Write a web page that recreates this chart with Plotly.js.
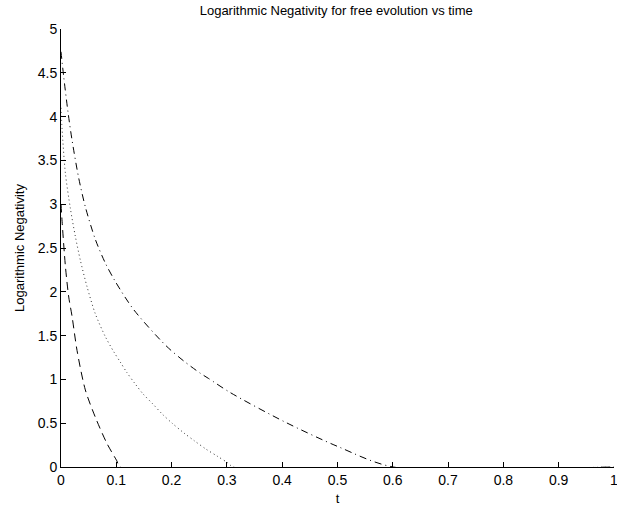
<!DOCTYPE html>
<html>
<head>
<meta charset="utf-8">
<script src="https://cdn.plot.ly/plotly-3.0.1.min.js"></script>
<style>html,body{margin:0;padding:0;background:#fff;}#chart{width:617px;height:511px;}</style>
</head>
<body>
<div id="chart"></div>
<script>
// Dashed series
const tDash = [0, 0.002, 0.008, 0.014, 0.02, 0.029, 0.044, 0.062, 0.083, 0.101, 0.107, 1.0];
const yDash = [3.0, 2.8, 2.29, 1.94, 1.72, 1.33, 0.88, 0.57, 0.27, 0.07, 0, 0];
// Dotted series
const tDot = [0, 0.002, 0.008, 0.017, 0.026, 0.035, 0.047, 0.062, 0.08, 0.095, 0.107, 0.119, 0.134, 0.149, 0.166, 0.183, 0.201, 0.222, 0.241, 0.262, 0.282, 0.301, 0.312, 1.0];
const yDot = [4.1, 3.85, 3.35, 2.95, 2.63, 2.36, 2.06, 1.75, 1.49, 1.32, 1.20, 1.08, 0.95, 0.83, 0.72, 0.605, 0.50, 0.39, 0.30, 0.205, 0.126, 0.05, 0, 0];
// Dash-dot series
const tDashDot = [0, 0.005, 0.0127, 0.02, 0.032, 0.044, 0.062, 0.08, 0.098, 0.131, 0.189, 0.222, 0.252, 0.267, 0.306, 0.403, 0.502, 0.601, 1.0];
const yDashDot = [4.74, 4.45, 4.05, 3.73, 3.3, 2.97, 2.6, 2.33, 2.12, 1.80, 1.39, 1.21, 1.07, 1.01, 0.85, 0.52, 0.23, 0, 0];

const xTicks = [0, 0.1, 0.2, 0.3, 0.4, 0.5, 0.6, 0.7, 0.8, 0.9, 1];
const xTickText = ["0", "0.1", "0.2", "0.3", "0.4", "0.5", "0.6", "0.7", "0.8", "0.9", "1"];
const yTicks = [0, 0.5, 1, 1.5, 2, 2.5, 3, 3.5, 4, 4.5, 5];
const yTickText = ["0", "0.5", "1", "1.5", "2", "2.5", "3", "3.5", "4", "4.5", "5"];

const font = "Liberation Sans, Arial, Helvetica, sans-serif";
const traces = [
  {x: tDash, y: yDash, mode: "lines", line: {color: "#000", width: 1, dash: "8px,5px", shape: "spline", smoothing: 0.8}},
  {x: tDot, y: yDot, mode: "lines", line: {color: "#333", width: 1, dash: "1px,3px", shape: "spline", smoothing: 0.8}},
  {x: tDashDot, y: yDashDot, mode: "lines", line: {color: "#000", width: 1, dash: "7px,4px,1px,4px", shape: "spline", smoothing: 0.8}}
];
const layout = {
  width: 617, height: 511,
  margin: {l: 61, r: 3, t: 29, b: 44},
  paper_bgcolor: "#fff", plot_bgcolor: "#fff",
  showlegend: false,
  font: {family: font, size: 14, color: "#000"},
  title: {text: "Logarithmic Negativity for free evolution vs time", font: {family: font, size: 13, color: "#000"}, x: 0.545, xanchor: "center", y: 0.988, yanchor: "top"},
  xaxis: {
    range: [0, 1.0001], tickmode: "array", tickvals: xTicks, ticktext: xTickText,
    ticks: "inside", ticklen: 5, tickcolor: "#000", tickwidth: 1,
    ticklabeloverflow: "allow",
    showline: true, linecolor: "#000", linewidth: 1, showgrid: false, zeroline: false,
    tickfont: {family: font, size: 14, color: "#000"},
    title: {text: "t", font: {family: font, size: 13, color: "#000"}, standoff: 7}
  },
  yaxis: {
    range: [0, 5], tickmode: "array", tickvals: yTicks, ticktext: yTickText,
    ticks: "inside", ticklen: 5, tickcolor: "#000", tickwidth: 1,
    ticklabeloverflow: "allow",
    showline: true, linecolor: "#000", linewidth: 1, showgrid: false, zeroline: false,
    tickfont: {family: font, size: 14, color: "#000"},
    title: {text: "Logarithmic Negativity", font: {family: font, size: 13, color: "#000"}, standoff: 10}
  }
};
Plotly.newPlot("chart", traces, layout, {displayModeBar: false, staticPlot: true});
</script>
</body>
</html>
